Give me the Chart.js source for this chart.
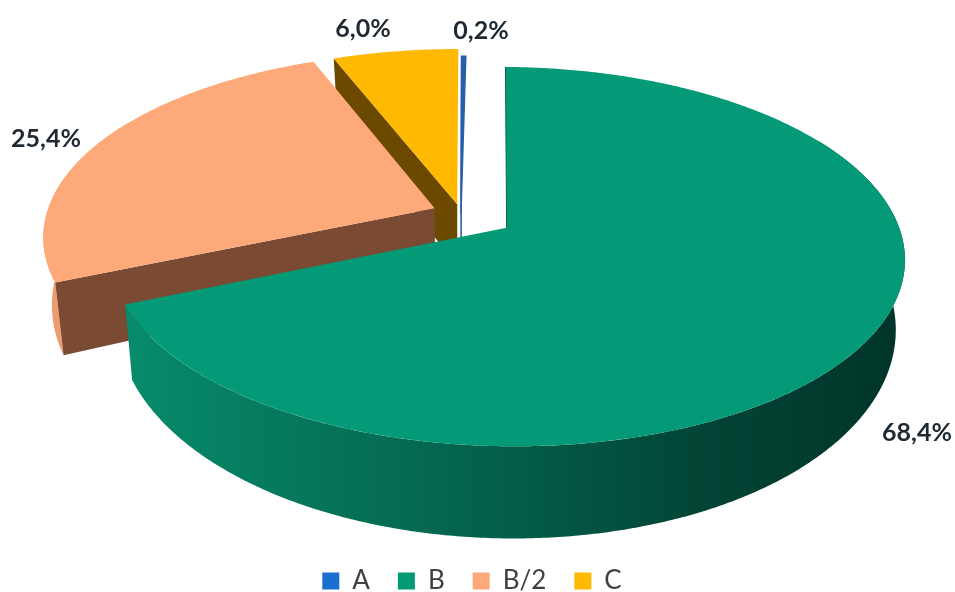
<!DOCTYPE html>
<html><head><meta charset="utf-8">
<style>html,body{margin:0;padding:0;background:#fff}#wrap{width:955px;height:592px}</style>
<script src="https://cdn.jsdelivr.net/npm/chart.js@4"></script>
</head><body><div id="wrap"><canvas id="c" width="955" height="592"></canvas></div>
<script>
const categories = ['A','B','B/2','C'];
const values = [0.2,68.4,25.4,6.0];
const valueLabels = ['0,2%','68,4%','25,4%','6,0%'];
const colors = ['#1b6fd0','#049a77','#fea97a','#ffb900'];
const explosion = [0,0.14,0.074,0.053];
const cutColors = ['#2a5fa8',null,'#7a4b32','#6b4a00'];
const wallStops = [
  [null],
  [[0.13,'#078c6c'],[0.3,'#06785c'],[0.52,'#04604a'],[0.72,'#024636'],[0.93,'#01352a']],
  [[0.03,'#ee9c6e'],[0.1,'#ee9c6e']],
  [null]
];
const labelAnchors = [[481,31],[917,433],[46,139],[363,29]];
const view = {cx:461, top:{cy:213.5,rx:388,ry:181},bottom:{cy:278,rx:380,ry:202.5}, k:0.15};

function project(disc,u,v){
  const w = 1 - view.k*v;
  return [view.cx + disc.rx*u/w, disc.cy + disc.ry*v/w];
}
function rimPoint(disc,theta,e,mid,r){
  const ox = e*Math.sin(mid), oy = -e*Math.cos(mid);
  return project(disc, ox + r*Math.sin(theta), oy - r*Math.cos(theta));
}
function angleList(a,b){
  const n = Math.max(2, Math.ceil(Math.abs(b-a)/(Math.PI/360)));
  const out=[]; for(let i=0;i<=n;i++) out.push(a+(b-a)*i/n); return out;
}
function tracePoly(ctx,pts){
  ctx.beginPath(); pts.forEach((p,i)=> i? ctx.lineTo(p[0],p[1]) : ctx.moveTo(p[0],p[1])); ctx.closePath();
}
const pie3d = {
  id:'pie3d',
  beforeDatasetDraw(chart,args){
    const ctx = chart.ctx, arcs = chart.getDatasetMeta(0).data;
    const order = [3,0,2,1];
    const frontMin = Math.PI/3, frontMax = Math.PI*5/3;
    ctx.save();
    order.forEach(i=>{
      const p = arcs[i].getProps(['startAngle','endAngle']);
      const s = p.startAngle + Math.PI/2, t = p.endAngle + Math.PI/2;
      const mid = (s+t)/2, e = explosion[i];
      const a = Math.max(s,frontMin), b = Math.min(t,frontMax);
      if (b > a && wallStops[i][0]) {
        const th = angleList(a,b);
        const pts = th.map(x=>rimPoint(view.top,x,e,mid,1)).concat(th.slice().reverse().map(x=>rimPoint(view.bottom,x,e,mid,1)));
        const g = ctx.createLinearGradient(0,0,955,0);
        wallStops[i].forEach(st=>g.addColorStop(st[0],st[1]));
        tracePoly(ctx,pts); ctx.fillStyle = g; ctx.fill();
      }
      if (cutColors[i]) {
        const pts = [rimPoint(view.top,s,e,mid,0),rimPoint(view.top,s,e,mid,1),rimPoint(view.bottom,s,e,mid,1),rimPoint(view.bottom,s,e,mid,0)];
        tracePoly(ctx,pts); ctx.fillStyle = cutColors[i]; ctx.fill();
        if (i===0){ ctx.strokeStyle='#2a5fa8'; ctx.lineWidth=1.4; ctx.stroke(); }
      }
      const top = angleList(s,t).map(x=>rimPoint(view.top,x,e,mid,1));
      top.push(rimPoint(view.top,s,e,mid,0));
      tracePoly(ctx,top); ctx.fillStyle = i===0 ? '#2a5fa8' : colors[i]; ctx.fill();
      if (i===0){ ctx.strokeStyle='#2a5fa8'; ctx.lineWidth=1.4; ctx.stroke(); }
      if (i===1){
        const q0=rimPoint(view.top,s,e,mid,1), q1=rimPoint(view.top,s,e,mid,0);
        ctx.beginPath(); ctx.moveTo(q0[0],q0[1]); ctx.lineTo(q1[0],q1[1]); ctx.strokeStyle='#04664f'; ctx.lineWidth=1; ctx.stroke();
      }
    });
    ctx.fillStyle='#1f2933'; ctx.font='bold 25px Lato'; ctx.textAlign='center'; ctx.textBaseline='middle';
    valueLabels.forEach((t,i)=>ctx.fillText(t,labelAnchors[i][0],labelAnchors[i][1]));
    ctx.restore();
    return false;
  }
};
new Chart(document.getElementById('c'),{
  type:'pie',
  data:{labels:categories,datasets:[{data:values,backgroundColor:colors,borderWidth:0}]},
  options:{
    responsive:false,animation:false,rotation:0.1,
    layout:{padding:{bottom:-12,right:11}},
    plugins:{
      tooltip:{enabled:false},
      legend:{position:'bottom',labels:{boxWidth:17,boxHeight:17,padding:28,color:'#404040',font:{family:'Lato',size:26}}}
    }
  },
  plugins:[pie3d]
});
</script></body></html>
